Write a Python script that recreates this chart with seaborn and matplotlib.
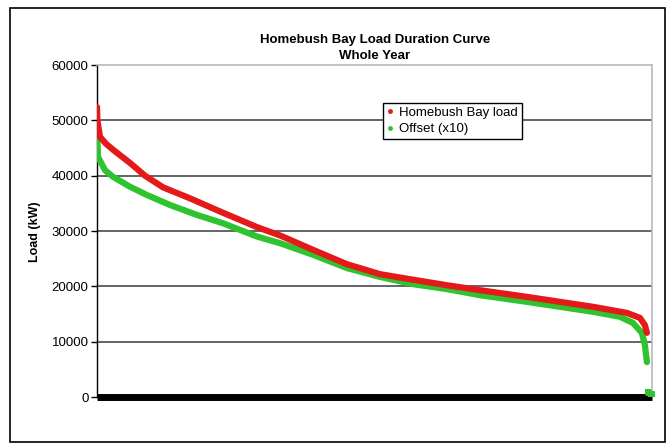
import matplotlib
matplotlib.use("Agg")
from matplotlib import pyplot as plt
from matplotlib.lines import Line2D
from matplotlib.patches import Rectangle
import seaborn as sns
import pandas as pd

# Load duration curve (hours ranked 0..8760, load in kW)
load_hours = [0, 5, 47, 140, 252, 521, 757, 1041, 1468, 1988, 2525, 2888, 3409, 3945,
              4466, 4987, 5523, 6044, 6785, 7306, 7827, 8364, 8569, 8648, 8680]
load_kw = [52400, 50100, 47000, 45800, 44700, 42300, 40000, 37900, 35900, 33300, 30700,
           29200, 26600, 24000, 22200, 21200, 20200, 19300, 18100, 17200, 16300, 15200,
           14300, 13000, 11600]

offset_hours = [0, 5, 16, 126, 252, 521, 789, 1152, 1578, 1988, 2257, 2525, 2888, 3409,
                3945, 4466, 4987, 5523, 6044, 6785, 7306, 7827, 8253, 8458, 8600, 8648, 8680]
offset_kw = [49200, 47000, 43400, 41000, 39800, 38000, 36500, 34700, 32900, 31400, 30200,
             29000, 27800, 25700, 23300, 21700, 20400, 19500, 18400, 17200, 16300, 15400,
             14500, 13400, 11600, 9400, 6300]

# last few hours of the year sit near zero
tail_hours = [8700, 8715, 8730, 8745, 8760]
tail_kw = [900, 700, 600, 500, 500]

red = "#e41a1a"
green = "#2fc42f"

load = pd.DataFrame({"hour": load_hours, "kw": load_kw})
offset = pd.DataFrame({"hour": offset_hours, "kw": offset_kw})
tail = pd.DataFrame({"hour": tail_hours, "kw": tail_kw})

sns.set_style("white")
plt.rcParams["font.family"] = ["Liberation Sans", "DejaVu Sans"]
plt.rcParams["text.color"] = "black"
plt.rcParams["ytick.color"] = "black"

fig = plt.figure(figsize=(6.68, 4.43), dpi=100)
ax = fig.add_axes([97 / 668, 46 / 443, 555 / 668, 332 / 443])

sns.lineplot(data=offset, x="hour", y="kw", color=green, linewidth=4.5, ax=ax, zorder=3)
sns.lineplot(data=load, x="hour", y="kw", color=red, linewidth=4.5, ax=ax, zorder=4)
sns.scatterplot(data=tail, x="hour", y="kw", color=green, s=16, marker="s",
                edgecolor="none", ax=ax, zorder=8, clip_on=False)

ax.set_xlim(0, 8760)
ax.set_ylim(0, 60000)
ax.set_yticks([0, 10000, 20000, 30000, 40000, 50000, 60000])
ax.set_xticks([])
ax.set_xlabel("")
ax.set_ylabel("")
for v in [10000, 20000, 30000, 40000, 50000]:
    ax.axhline(v, color="#3a3a3a", linewidth=1.1, zorder=1)

ax.tick_params(axis="y", direction="out", length=4, width=1, color="black",
               labelcolor="black", labelsize=9.5, pad=2, left=True)
for s in ["top", "right"]:
    ax.spines[s].set_color("#b8b8b8")
    ax.spines[s].set_linewidth(1.2)
ax.spines["left"].set_color("black")
ax.spines["left"].set_linewidth(1)
ax.spines["bottom"].set_color("black")
ax.spines["bottom"].set_linewidth(5)
ax.spines["bottom"].set_capstyle("butt")
ax.spines["bottom"].set_zorder(6)

fig.text(375 / 668, 1 - 40 / 443, "Homebush Bay Load Duration Curve",
         ha="center", va="center", fontsize=9.5, fontweight="bold", color="black")
fig.text(375 / 668, 1 - 56 / 443, "Whole Year",
         ha="center", va="center", fontsize=9.5, fontweight="bold", color="black")
fig.text(35 / 668, 1 - 232 / 443, "Load (kW)", rotation=90, ha="center", va="center",
         fontsize=9, fontweight="bold", color="black")

handles = [Line2D([], [], color=red, marker="o", markersize=2.5, linestyle="none"),
           Line2D([], [], color=green, marker="o", markersize=2.5, linestyle="none")]
leg = ax.legend(handles, ["Homebush Bay load", "Offset (x10)"],
                loc="upper left", bbox_to_anchor=(383 / 668, 1 - 103 / 443),
                bbox_transform=fig.transFigure, fontsize=9.5, frameon=True,
                fancybox=False, framealpha=1, edgecolor="black", borderpad=0.25,
                handlelength=0.6, handletextpad=0.4, labelspacing=0.35,
                borderaxespad=0)
leg.get_frame().set_linewidth(1)
leg.set_zorder(10)
for t in leg.get_texts():
    t.set_color("black")

fig.patches.append(Rectangle((10 / 668, 1 / 443), 655 / 668, 434 / 443,
                             transform=fig.transFigure, fill=False,
                             edgecolor="black", linewidth=1.2))

fig.savefig("out.png", dpi=100)
